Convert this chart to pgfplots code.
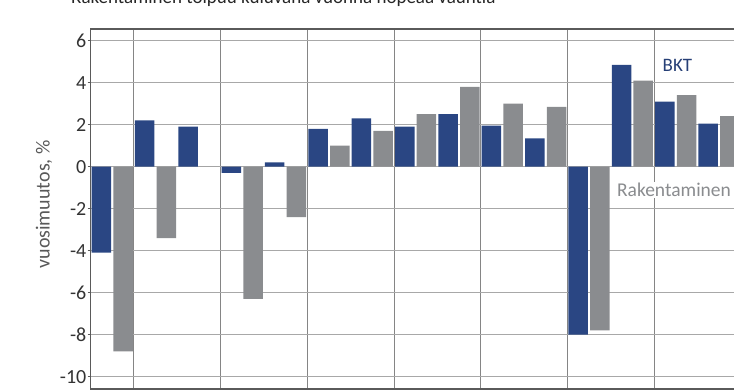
\documentclass[border=0pt]{standalone}
\usepackage{pgfplots}
\pgfplotsset{compat=1.18}
\usepackage{fontspec}
\setmainfont{Carlito}
\definecolor{bktblue}{HTML}{2A4683}
\definecolor{rakgray}{HTML}{8A8C8F}
\definecolor{framec}{HTML}{5A5A5A}
\definecolor{hgrid}{HTML}{A8A8A8}
\definecolor{vgrid}{HTML}{858585}
\begin{document}
\begin{tikzpicture}
\useasboundingbox (0,0) rectangle (734pt,391pt);
\clip (0,0) rectangle (734pt,391pt);
\node[anchor=base west, inner sep=0pt, text=black!85, font=\fontsize{19}{21}\selectfont] at (71pt,387.5pt) {Rakentaminen toipuu kuluvana vuonna nopeaa vauhtia};
\begin{axis}[
  x=43.35pt, y=21pt,
  at={(90.5pt,2pt)}, anchor=south west,
  xmin=-0.5, xmax=15.5, ymin=-10.59, ymax=6.56,
  axis line style={line width=1.5pt, draw=framec},
  xtick={0.5,2.5,4.5,6.5,8.5,10.5,12.5,14.5},
  xticklabels={},
  xmajorgrids,
  x grid style={line width=0.9pt, draw=vgrid},
  xtick style={draw=none},
  ytick={-10,-8,-6,-4,-2,0,2,4,6},
  yticklabels={-10,-8,-6,-4,-2,0,2,4,6},
  ymajorgrids,
  y grid style={line width=0.9pt, draw=hgrid},
  tick align=outside,
  ytick style={draw=framec, line width=0.8pt},
  major tick length=3pt,
  yticklabel style={font=\fontsize{20}{22}\selectfont, text=black!80, inner sep=1pt},
  ylabel={vuosimuutos, \%},
  ylabel style={at={(rel axis cs:-0.0670,0.5125)}, anchor=center, font=\fontsize{20}{22}\selectfont, text=black!65},
  axis on top=false,
]
\addplot[ybar, bar width=0.45, bar shift=-0.25, fill=bktblue, draw=none] coordinates {
(0,-4.1) (1,2.2) (2,1.9) (3,-0.3) (4,0.2) (5,1.8) (6,2.3) (7,1.9) (8,2.5) (9,1.95) (10,1.35) (11,-8.0) (12,4.85) (13,3.1) (14,2.05)
};
\addplot[ybar, bar width=0.45, bar shift=0.25, fill=rakgray, draw=none] coordinates {
(0,-8.8) (1,-3.4) (2,0) (3,-6.3) (4,-2.4) (5,1.0) (6,1.7) (7,2.5) (8,3.8) (9,3.0) (10,2.85) (11,-7.8) (12,4.1) (13,3.4) (14,2.4)
};
\node[anchor=center, fill=white, inner sep=1pt, text=bktblue!90!black, font=\fontsize{19}{21}\selectfont] at (axis cs:13.04,4.84) {BKT};
\node[anchor=west, fill=white, inner sep=1pt, text=rakgray, font=\fontsize{19.5}{21}\selectfont] at (axis cs:11.62,-1.1) {Rakentaminen};
\end{axis}
\end{tikzpicture}
\end{document}
